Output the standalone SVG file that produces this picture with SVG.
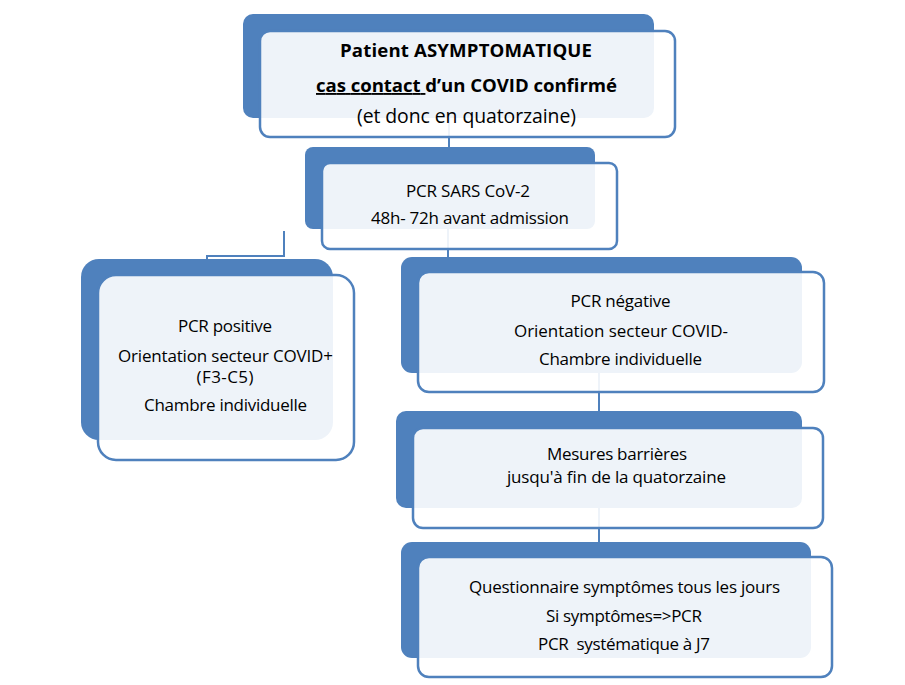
<svg xmlns="http://www.w3.org/2000/svg" width="905" height="685" viewBox="0 0 905 685">
<style>
.back{fill:#4f81bd}
.front{fill:#ffffff;fill-opacity:0.9;stroke:#4f81bd;stroke-width:2.5}
.conn{fill:none;stroke:#4f81bd;stroke-width:2}
text{font-family:"Open Sans","Noto Sans","Liberation Sans",sans-serif;fill:#000;text-anchor:middle;font-size:17px}
.t1{font-size:18.6px;font-weight:bold}
.t1r{font-size:19.4px}
</style>
<rect width="905" height="685" fill="#ffffff"/>
<g id="connectors">
  <line class="conn" x1="449" y1="100" x2="449" y2="160"/>
  <line class="conn" x1="448" y1="215" x2="448" y2="270"/>
  <polyline class="conn" points="284,231 284,256 207,256 207,264"/>
  <line class="conn" x1="599" y1="360" x2="599" y2="420"/>
  <line class="conn" x1="599" y1="495" x2="599" y2="550"/>
</g>
<g id="node-patient">
  <rect class="back" x="243" y="14" width="411" height="104" rx="10"/>
  <rect class="front" x="260" y="31" width="415" height="106" rx="10"/>
  <text class="t1" x="466" y="57" textLength="252">Patient ASYMPTOMATIQUE</text>
  <text class="t1" x="466.5" y="92" textLength="301" xml:space="preserve"><tspan text-decoration="underline">cas contact </tspan>d’un COVID confirmé</text>
  <text class="t1r" x="466.5" y="123" textLength="219">(et donc en quatorzaine)</text>
</g>
<g id="node-pcr">
  <rect class="back" x="305" y="147" width="290" height="82" rx="8"/>
  <rect class="front" x="322" y="163" width="295" height="86" rx="8"/>
  <text x="468" y="197" textLength="124">PCR SARS CoV-2</text>
  <text x="470" y="224" textLength="198">48h- 72h avant admission</text>
</g>
<g id="node-positive">
  <rect class="back" x="81" y="259" width="252" height="181" rx="18"/>
  <rect class="front" x="98" y="275" width="256" height="185" rx="18"/>
  <text x="225" y="332" textLength="94">PCR positive</text>
  <text x="225.5" y="362" textLength="215">Orientation secteur COVID+</text>
  <text x="225" y="383" textLength="57">(F3-C5)</text>
  <text x="225.5" y="411" textLength="163">Chambre individuelle</text>
</g>
<g id="node-negative">
  <rect class="back" x="401" y="257" width="401" height="116" rx="11"/>
  <rect class="front" x="418" y="272" width="406" height="120" rx="11"/>
  <text x="620.5" y="307" textLength="100">PCR négative</text>
  <text x="621" y="337" textLength="214">Orientation secteur COVID-</text>
  <text x="620.5" y="365" textLength="163">Chambre individuelle</text>
</g>
<g id="node-mesures">
  <rect class="back" x="396" y="411" width="406" height="97" rx="10"/>
  <rect class="front" x="413" y="428" width="410" height="100" rx="10"/>
  <text x="617" y="460" textLength="140">Mesures barrières</text>
  <text x="616.5" y="483" textLength="219">jusqu'à fin de la quatorzaine</text>
</g>
<g id="node-questionnaire">
  <rect class="back" x="401" y="542" width="410" height="116" rx="11"/>
  <rect class="front" x="418" y="557" width="414" height="120" rx="11"/>
  <text x="624.5" y="593" textLength="311">Questionnaire symptômes tous les jours</text>
  <text x="624" y="622" textLength="156">Si symptômes=&gt;PCR</text>
  <text x="624" y="650" textLength="172" xml:space="preserve">PCR  systématique à J7</text>
</g>
</svg>
